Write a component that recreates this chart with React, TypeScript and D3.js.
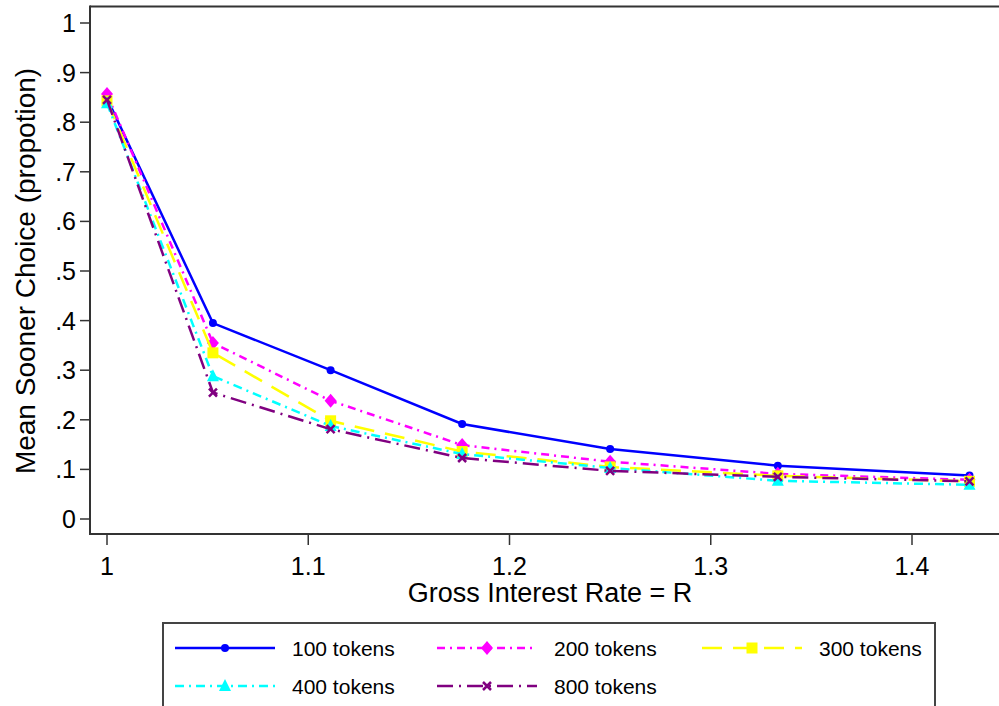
import React from "react";
import * as d3 from "d3";

const rates = [1, 1 / 0.95, 1 / 0.9, 1 / 0.85, 1.25, 1 / 0.75, 1 / 0.7];
const s100 = [0.848, 0.395, 0.3, 0.1915, 0.141, 0.1075, 0.0875];
const s200 = [0.857, 0.355, 0.2385, 0.149, 0.1155, 0.091, 0.079];
const s300 = [0.843, 0.335, 0.198, 0.136, 0.105, 0.087, 0.076];
const s400 = [0.838, 0.288, 0.1875, 0.131, 0.103, 0.077, 0.069];
const s800 = [0.845, 0.255, 0.181, 0.123, 0.097, 0.085, 0.076];
const seriesNames = ["100 tokens", "200 tokens", "300 tokens", "400 tokens", "800 tokens"];
const yTicks = [0, 0.1, 0.2, 0.3, 0.4, 0.5, 0.6, 0.7, 0.8, 0.9, 1];
const yTickLabels = ["0", ".1", ".2", ".3", ".4", ".5", ".6", ".7", ".8", ".9", "1"];
const xTicks = [1, 1.1, 1.2, 1.3, 1.4];
const xTickLabels = ["1", "1.1", "1.2", "1.3", "1.4"];

const styles = [
  { color: "#0000ff", dash: "", marker: "circle" },
  { color: "#ff00ff", dash: "8 5 2 5", marker: "diamond" },
  { color: "#ffff00", dash: "20 11", marker: "square" },
  { color: "#00ffff", dash: "9 5 2 5", marker: "triangle" },
  { color: "#800080", dash: "16 6 2 6", marker: "x" },
];

const FONT = "'Liberation Sans', Arial, sans-serif";

function Marker({ type, x, y, color }: { type: string; x: number; y: number; color: string }) {
  if (type === "circle") return <circle cx={x} cy={y} r={4} fill={color} />;
  if (type === "diamond")
    return <path d={`M${x},${y - 7}L${x + 6},${y}L${x},${y + 7}L${x - 6},${y}Z`} fill={color} />;
  if (type === "square") return <rect x={x - 5.5} y={y - 5.5} width={11} height={11} fill={color} />;
  if (type === "triangle")
    return <path d={`M${x},${y - 7}L${x + 6},${y + 5}L${x - 6},${y + 5}Z`} fill={color} />;
  return (
    <path
      d={`M${x - 4},${y - 4}L${x + 4},${y + 4}M${x - 4},${y + 4}L${x + 4},${y - 4}`}
      stroke={color}
      strokeWidth={2.5}
    />
  );
}

export default function App() {
  const W = 999,
    H = 706;
  const x = d3.scaleLinear().domain([1, 1.4]).range([107, 912]);
  const y = d3.scaleLinear().domain([0, 1]).range([519, 23]);
  const data = [s100, s200, s300, s400, s800];
  const line = d3
    .line<number>()
    .x((_, i) => x(rates[i]))
    .y((d) => y(d));
  const axisColor = "#333";
  const legendCols = [175, 437, 702];
  const legendRows = [648, 686];
  return (
    <svg
      width={W}
      height={H}
      style={{ position: "absolute", left: 0, top: 0, background: "#fff" }}
      fontFamily={FONT}
    >
      <rect width={W} height={H} fill="#fff" />
      {/* frame */}
      <line x1={90} x2={W} y1={6.5} y2={6.5} stroke={axisColor} strokeWidth={2} />
      <line x1={90} x2={90} y1={5.5} y2={535} stroke={axisColor} strokeWidth={2} />
      <line x1={89} x2={W} y1={534} y2={534} stroke={axisColor} strokeWidth={2} />
      {/* y ticks */}
      {yTicks.map((t, i) => (
        <g key={"y" + i}>
          <line x1={80} x2={90} y1={y(t)} y2={y(t)} stroke={axisColor} strokeWidth={1.5} />
          <text x={76} y={y(t)} dy="0.36em" textAnchor="end" fontSize={25} fill="#000">
            {yTickLabels[i]}
          </text>
        </g>
      ))}
      {/* x ticks */}
      {xTicks.map((t, i) => (
        <g key={"x" + i}>
          <line x1={x(t)} x2={x(t)} y1={534} y2={545} stroke={axisColor} strokeWidth={1.5} />
          <text x={x(t)} y={575} textAnchor="middle" fontSize={25} fill="#000">
            {xTickLabels[i]}
          </text>
        </g>
      ))}
      <text x={550} y={602} textAnchor="middle" fontSize={27} fill="#000">
        Gross Interest Rate = R
      </text>
      <text
        transform={`translate(35,${y(0.5)}) rotate(-90)`}
        textAnchor="middle"
        fontSize={28}
        fill="#000"
      >
        Mean Sooner Choice (propotion)
      </text>
      {/* series */}
      {data.map((s, k) => (
        <g key={"s" + k}>
          <path
            d={line(s) || ""}
            fill="none"
            stroke={styles[k].color}
            strokeWidth={2.5}
            strokeDasharray={styles[k].dash}
          />
          {s.map((v, i) => (
            <Marker key={i} type={styles[k].marker} x={x(rates[i])} y={y(v)} color={styles[k].color} />
          ))}
        </g>
      ))}
      {/* legend */}
      <rect x={163} y={623} width={772} height={100} fill="#fff" stroke="#444" strokeWidth={2} />
      {seriesNames.map((n, k) => {
        const cx = legendCols[k % 3];
        const cy = legendRows[Math.floor(k / 3)];
        return (
          <g key={"l" + k}>
            <line
              x1={cx}
              x2={cx + 100}
              y1={cy}
              y2={cy}
              stroke={styles[k].color}
              strokeWidth={2.5}
              strokeDasharray={styles[k].dash}
            />
            <Marker type={styles[k].marker} x={cx + 50} y={cy} color={styles[k].color} />
            <text x={cx + 117} y={cy} dy="0.36em" fontSize={21} fill="#000">
              {n}
            </text>
          </g>
        );
      })}
    </svg>
  );
}
